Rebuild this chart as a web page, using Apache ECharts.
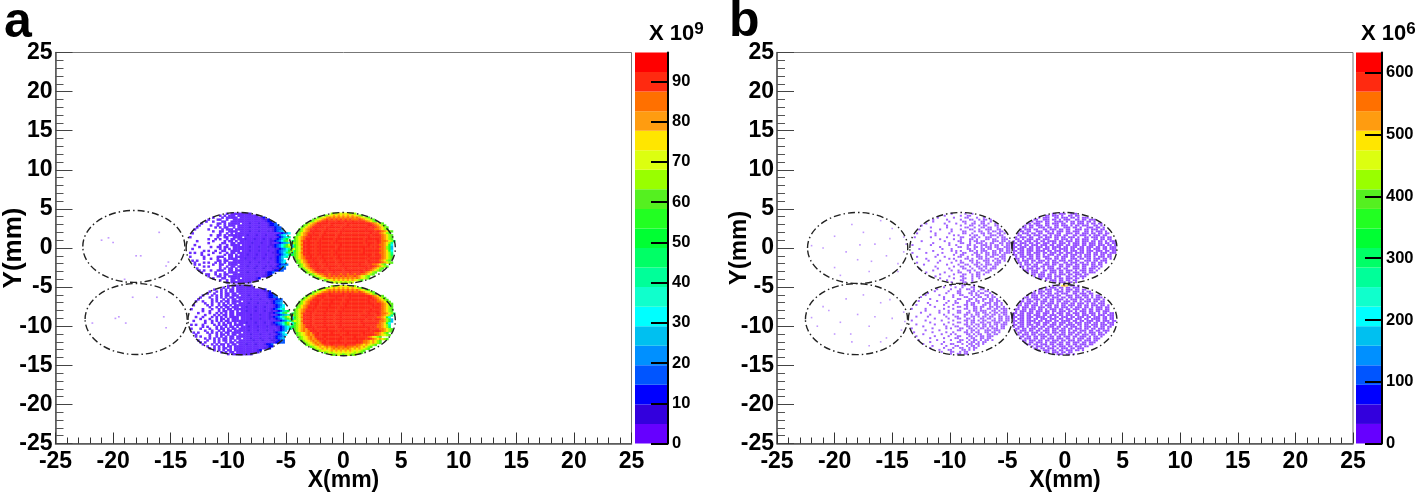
<!DOCTYPE html>
<html>
<head>
<meta charset="utf-8">
<script src="https://cdn.jsdelivr.net/npm/echarts@6/dist/echarts.min.js"></script>
<style>html,body{margin:0;background:#fff}#main{width:1416px;height:496px}</style>
</head>
<body>
<div id="main"></div>
<script>
var bandColors = ['#6600ff','#3300dd','#0000ff','#0055ff','#0090ff','#00c0f0','#00ffff','#10ffcc','#00ff99','#00ff66',
  '#00ff33','#22ff22','#55f020','#99ff00','#dcff10','#ffe600','#ff9c10','#ff7000','#ff2a10','#ff0000'];
// the map reads a little paler than the bar in its lowest bands and its core
var aMapColors = ['#6a2cff','#5020f0'].concat(bandColors.slice(2, 18), ['#ff3a20','#ff2418']);
var aBarTicks = [0,10,20,30,40,50,60,70,80,90];
var bBarTicks = [0,100,200,300,400,500,600];
var aBarMax = 97.2;
var bBarMax = 633;
// x, y, half widths of the dash-dot outlines, mm
var aOutlines = [[-18.2,0.2,4.43,4.6],[-9.1,0,4.56,4.54],[0,0,4.5,4.54],[-18,-9.08,4.43,4.54],[-9,-9.2,4.5,4.45],[0,-9.27,4.5,4.5]];
var bOutlines = [[-18,0,4.35,4.54],[-9.04,0,4.43,4.54],[-0.04,0,4.55,4.54],[-18.1,-9.1,4.43,4.54],[-9.1,-9.15,4.5,4.54],[-0.04,-9.2,4.55,4.5]];

// lone hits in the far left spots, x and y in mm
var aLeftPoints = [[-20,0.7],[-20.4,1.3],[-17.6,-1],[-16,2],[-15.2,-1.8],[-15.4,-2.3],[-19,-4],[-21,1],[-18,-1],
  [-19.8,-9],[-18.9,-9.6],[-16.2,-6.3],[-15.6,-8.8],[-21.8,-9.6],[-15.4,-10.2],[-18.3,-6.3],[-19.5,-8.8]];
var bLeftPoints = [[-20,1.5],[-19,-0.5],[-17.5,2],[-16.5,0.5],[-15.5,-1],[-14.5,-2],[-21,0],[-20,-2.5],[-18,-1.5],[-17,-3],
  [-15,2.5],[-16,3.5],[-18.5,3],[-14,-0.5],[-13.8,0.5],[-14.5,-3],[-22,0.3],[-17.8,0.4],[-15.2,1.2],[-19.5,-3.5],[-16.8,-1.7],[-14,1.4],
  [-20.5,-8],[-19,-6.5],[-18,-8.5],[-17,-10],[-16,-7],[-15,-9],[-14,-8.2],[-21.5,-10],[-20,-11],[-18.5,-12],[-17,-12.5],[-15.5,-11.5],
  [-14.2,-10.5],[-13.9,-9.4],[-19.5,-9.5],[-16.5,-8.8],[-21,-7.5],[-17.5,-6],[-15.2,-6.6],[-18.6,-11],[-16,-12],[-22,-8.9]];

// band index per cell, base 36, '.' = empty. 0.2 mm wide, 0.25 mm tall, top row first
var aRightTop = [
'.................dedfefefded',
'..............cdefgfgfgfgfgfedc',
'...........cdefghghghghghghghgfedc',
'.........cdefghihihihihihihhhihgfedc',
'........cdfghiijiiiijiijiijiiiiihgfdc',
'......cdfghjjjjjijjjjjjijjjjjjjjjjihgfdc',
'.....cdfghiijiiiijiiiiiijiiiiiiiijjihgfdc',
'....cdfghjjjjjijjjjjjijjjjjjjjjjjjijihgfdc',
'...cdfghiijiiiijiiiiiijiiiiiiiiijiiihhgfdc',
'...cdfghjjjjjijjjjjjijjjjjjjjjjjjjjjijihgfdc',
'..cdfghiijiiiijiiiiiijiiiiiiiiiiiijiiihgfdc',
'..cdfghjjjjjijjjjjjijjjjjjjjjjjjjjijjjihgfdc',
'.cdfghiijiiiijiiiiiijiiiiiiiiiiiijiiiiihgfdc',
'.cdfghjjjjjijjjjjjijjjjjjjjjjjjijjjjjjihgfdc',
'9cdfhiijiiiijiiiiiijiiiiiiiiiiiijiiiijihhgfd9',
'8cdfgjjjjjijjjjjjijjjjjjjjjjjjjijjjjijihgfd8',
'6bdfhiijiiiijiiiiiiiijiiiiiiiiiiijiiiihhgfb6',
'5bdegjjjjjijjjjjjjjijjjjjjjjjjjjjjijijihgdb5',
'5bdehiijiiiijiiiiiiijiiiiiiiiiijiiiiiihhgdb5',
'6bdegjjjjjijjjjjjijjjjjjjjjjjjijjjjjjjihgfb6',
'8cdfhiijiiiijiiiiiijiiiiiiiiiiijiiiiiihhgfd8',
'9cdfgjjjjjijjjjjjijjjjjjjjjjjjjjjjjijjihgfd9',
'.cdfghiijiiiijiiiiiijiiiiiiiiiiiijiiiiihgfdc',
'.cdfghjjjjjijjjjjjijjjjjjjjjjjjjjijjjjihgfdc',
'..cdfghiijiiiijiiiiiijiiiiiiiiiiijiiiihgfdc',
'..cdfghjjjjjijjjjjjijjjjjjjjjjjjijjjjjihgfdc',
'...cdfghiijiiiijiiiiiijiiiiiijiiiiihhgfdc',
'...cdfghjjjjjijjjjjjijjjjjjjjjjjjijjihgfdc',
'....cdfghiijiiiijiiiiiijiiiiiiiijiihgfdc',
'.....cdfghjjjjjijjjjjjijjjjjjjjijihgfdc',
'......cdfghiijiiiijiiiiiijiiiijihgfdc',
'........cdfghhiihiiiihiihiihiihhgfdc',
'.........cdefghihihihihihhhihgfedc',
'...........cdefghghghghghghghgfedc',
'..............cdefgfgfgfgfgfedc',
'.................dedededede'
];
var aRightLow = [
'.................dedfefefded',
'..............cdefgfgfgfgfgfedc',
'...........cdefghghghghghghghgfedc',
'.........cdefghhihihihihihihhihgfedc',
'........cdfghiiijiiiiijiijiiiiiihgfdc',
'......cdfghjjjjijjjjjjjijjjjjjjjjjihgfdc',
'.....cdfghiiijiiiiijiiiiijiiiiiiijjihgfdc',
'....cdfghjjjjijjjjjjjjijjjjjjjjjjjijihgfdc',
'...cdfghiiijiiiiijiiiiiijiiiiiiiijiiihhgfdc',
'...cdfghjjjjijjjjjjjjijjjjjjjjjjjjjjijihgfdc',
'..cdfghiiijiiiiijiiiiiijiiiiiiiiiiijiiihgfdc',
'..cdfghjjjjijjjjjjjjijjjjjjjjjjjjjijjjihgfdc',
'.cdfghiiijiiiiijiiiiiijiiiiiiiiiiijiiiihgfdc',
'.cdfghjjjjijjjjjjjjijjjjjjjjjjjijjjjjjihgfdc',
'9cdfhiiijiiiiijiiiiiijiiiiiiiiiiijiiijihhgfd9',
'8cdfgjjjjijjjjjjjjijjjjjjjjjjijjjjjjijihgfd8',
'6bdfhiiijiiiiijiiiiiijiiiiiiiiiijiiiihhgfb6',
'5bdegjjjjijjjjjjjjijjjjjjjjjjjjjijjijjihgdb5',
'5bdehiiijiiiiijiiiiiijiiiiiiiijiiiiiiihhgdb5',
'6bdegjjjjijjjjjjjjijjjjjjjjjjijjjjjjjihgfb6',
'8cdfghiijiiiiijiiiiiijiiiiiiiiijiiiiihhgfd8',
'9cdfghjjjjijjjjjjjjijjjjjjjjjjjjjjijihhgfd9',
'.cdfghgiijiiiiijiiiiiijiiiiiiiiiijiiiihhgfdc',
'.cdfghghjjjijjjjjjjjijjjjjjjjjjjjjijjjihgfdc',
'..cdefghgiijiiiiijiiiiiijiiiiiijiiiihhgfdc',
'..cdefghghjjijjjjjjjjijjjjjjjjijjjjjihgfedc',
'...cdefghgiiiijiiiiiijiiiiijiiiiihgfedc',
'...cdefghghjjjijjjjjjjjijjjjjjjjijihgfgfdc',
'....cdefghghiijiiiiijiiiiiiijiihhgfgfdc',
'.....cdefghghjjijjjjjjjijjjjjjihhgfgfdc',
'......cdefghghiiijiiiiijiiiihhgfgfedc',
'........cdefgfghghhihhhihhhghgfgfdc',
'.........cdefgfgfghghghghgfgfgfedc',
'...........cdefefgfgfgfgfgfefedc',
'..............cdedefefefefededc',
'.................dcdedcdedcd'
];
var aMidTop = [
'.................0.000000001',
'..............0.0.000.000000001',
'...........0...0.00000.00000000012',
'.........0...00..0..0000000000000112',
'........0..0...00..000000000000000122',
'......0......00.0.00000.000100010001223',
'.....0....0..0..0.000.000000000000012233',
'....0.......0.0.00..0.0000010001000111233',
'...0.....0.....0.000.000000000000000012334',
'...........0..00..0000.0000100010001012345',
'..0...........0..0.0.000000000000000000012346',
'..........0..00.0.0000000010001000100012356',
'.0...........0..00..0000.00000000000000123568',
'.........0..0.0..0.00.000100010001001012358a',
'....0......0....0.00.0.00000000000001123469c',
'.........0.....00..00.00000010001000100123457ad',
'...0..........0..0.0000.0000000000001123468ce',
'.....0....0..00.00..00000001000100010123469cd',
'..0...........0.0.0.0000000000000000001123468ce',
'.......0.0..0..00..0000.00010001000100123457ad',
'.0.0..0....0..0..0.00.0000000000000001123469c',
'......0..0......0.00.0.0001000100010001123568a',
'.0.....0.....000..00.00000000000000000123568',
'.......0..0..0..0.0000.0010001000100101235',
'..0.0........00.00..00000000000000000012346',
'...0...0.0..0.0.0.0000000001000100010012356',
'...0.0.....0..00..0000.000000000000000012334',
'.......0.0....0..0.00.000010001000101012345',
'....0.........0.0.00.0.00000010001000111233',
'.....0.0..0..000..00.000000000000000012233',
'......0.....0...0.0000.000100010001223',
'........00..0.0.00..00000000000000122',
'.........0...00.0.000000000000000112',
'...........0...00..0000.00000012',
'..............0..0.00.000000001',
'.................0.000000001'
];
var aMidLow = [
'.................0.000000001',
'...............0.0.0.00000001',
'...........0..0.0.00.0000000000012',
'.........0..0.0.0.00.000000000000112',
'........0..0..0.00.00.000000000000122',
'......0...0.0.0.00.000.000100010001223',
'.....0...0..0.0.0.00.000000000000012233',
'....0.....0.0..0.0.00.0000010001000111233',
'...0..0...0.0.0.00.0000.00000000000012334',
'.......0..0..0.0.0.00.0000100010001012345',
'..0.....0.0..0.00.0.0000000000000000012346',
'.........0..0.0.00.000.0010001000100012356',
'.0....0...0..0.0.00.0000000000000000123568',
'......0..0...0.00.00.0.00100010001001012358a',
'....0....0..0.0.0.00.000000000000001123469c',
'.......0...0.0.00.00.00000010001000100123457ad',
'...0..0...0.0.0.0.0000.0000000000001123468ce',
'.....0...0..0.00.0.000.00001000100010123469cd',
'..0....0..0.0.0.00.00000000000000000001123468ce',
'.......0..0..0.0.00.0.00010001000100123457ad',
'.0.0..0....0.0.00.0.0000.000000000001123469c',
'......0.0...0.0.0.00.0.0001000100010001123568a',
'.0...0...0..0.00.0.00.00000000000000000123568',
'.......0..0..0.0.00.00000010001000100101235',
'..0.0...0.0.0.0.00.0000.000000000000012346',
'...0.....0..0.00.0.00.000001000100010012356',
'...0.0...0..0.0.0.00.000000000000000012334',
'.......0.0.0.0.00.00.00.000100010001012345',
'....0...0..0.0.00.0.0.00000010001000111233',
'.....0.0...0.0..0.00.000000000000000012233',
'......0...0.0.00.0.00.00010001000122 3'.replace(' ',''),
'........0..0.0.0.00.00000000000000122',
'.........0.0.0.00.0.0000000000000112',
'...........0.0.0.00.000000000012',
'..............0.0.00.0000000001',
'.................0.000000001'
];
var bMidTop = [
'..................0.....0..0',
'...............0......0..00..',
'............0......0....00...0..0.',
'..........0.....0.....0...00..0.00.0',
'..........0......0.....00...0..00..0',
'.......0.......0....0...0..00..00.0..0.',
'.....0..........0.....0...00..0.00...00',
'.........0......0.......00..0..00.00..0.',
'....0........0....0...0...00..0..000..00',
'.........0........0....00...0.00..0.00.00',
'...0.......0.....0.....00..0...00.00..00.0',
'...........0.......0.0....0.00..0..000.00.',
'..0......0......0.....00...00.0..000..0.00',
'.............0.....0..0...00.0...00.00..000',
'.....0.........0.....00...0.00.00...000.00.0',
'..........0......0....00..0..000.0.00..00.00',
'.0.......0.......0..0....00.0..000.0.00.0.00',
'.............0.......00..0..00.0.000.00..000',
'....0.........0...0......00.0..00.00..000.00',
'..........0.......0.0.0...00.0.000..00.00.00',
'.0.....0......0.....0..00...00.0.00.00.0.000',
'............0......0..00...0.00..00.000.00.',
'...0.......0...0.....00..0...000.0.00..000',
'.......0.........0.0....00.0..00.00..00.00',
'........0....0......0.0...00.0..000.0.00.0',
'...0........0.....0...00...0.00..00..000',
'......0.........0....0..00..00.0.000.00',
'...........0.......0..00..0..00.00..00',
'....0.......0....0.....00..0..00.0.000',
'..........0.......0..0...00.0..00.00',
'.......0.......0.....00...0..00..00',
'.............0.....0...00..0.00.0',
'...........0.....0....00...0.00.',
'.............0.....0...00..0..0',
'................0.....00...0',
'..................0....00..0'
];
var bMidLow = [
'..................0....00...0',
'...............0....0..0...00..',
'............0.....0...0..00.0..00',
'...........0.....0...00....00.0..00',
'........0.......0....00...00.0.00..0',
'.......0.....0.....0..00...0.00..00.0.',
'.....0.........0...0....00..0.00..0.00',
'.........0.....0.....00...00.0..00.00.0',
'....0.......0....0..0....00..00.0..00.00',
'........0.......0...00...0.00.0..000.00.0',
'...0.....0.....0...0....00.00...00.0.00.0',
'...........0.....0...00..0..00.00..00.00.0',
'.0.....0.......0...0....00..00.0..00.00.000',
'.......0.....0...0...00...0.00.000..00.0.00',
'.....0.......0...0...00..00..00.00.0.00.000',
'.........0.....0...0....00.0.00..00.00.0.00.',
'...0....0.......0...00..0..00.0.00.00..00.00',
'...........0.....0...00..00.0..00.00.0.00.00',
'.0.....0......0....0....00.00.0.00..00.00.00',
'.........0.......0...00..0.00..00.00.000.00',
'...0.......0...0...0....00.0.00.00.0.00.000',
'......0.........0...00...00.0.0.00.00.0.00',
'.0........0.....0.0...00..00.0.00.0.000.00',
'.......0.....0.......00..0.00.0..000.000',
'..0.......0.....0..0....00.0.00..00.00.0',
'......0.......0...0.0....00.0.00..00.00',
'...0.......0.....0...00...00.0.00.000',
'.........0.....0....00...0.00..00.00',
'....0.......0.....0...00..0.00.0.00.0',
'.........0.....0.....00..0.00.0.00',
'......0.......0...00...0..00.00.0',
'..........0.....0...00...0.00.0',
'.........0.....0...0..00..0.00',
'.............0...00....00.0.0',
'..............0...00..0.00',
'..................0..00.00'
];
var bRightTop = [
'.................00.000..000.',
'..............00.000.0..00.00',
'...........0.000..00.000.00.0.000',
'.........00..000.00.0.000..00.00.000',
'........0.000.00..0000.0.00.000.00.0',
'......00.000..00.000.00..00.000.0.00.00',
'.....0.00.000.00..00.000.0.00.000..00.0',
'....00.00..000.00.00..000.00.0..000.00.0',
'...0.000.00..00.000.00.00..000.00.000.00',
'...00.00..000.00.0.000.00.000..00.0.000.0',
'..0.000.00.00..000.00..000.00.000.00.00.00',
'..00..00.000.00.0.000.00..00.000.0.000.00',
'.0.000.00..00.000.00.00.000.0..00.000.00.00',
'.00.0.000.00.000..00.000.0.00.000..00.00.00',
'0.00.000.00.00.0000.00.000.00.000.00.00.0.000',
'00.000.00.00.000.00.000.0.000.00.000.00.00.00',
'0.00.00.000.000.00.000.00.000.00.000.000.00.0',
'00.000.00.000.00.0000.00.000.00.000.00.00.000',
'0.000.000.00.000.00.0000.00.000.00.000.00.000',
'00.00.000.0000.00.000.00.000.00.000.000.00.00',
'0.000.00.000.00.000.00.000.0000.00.00.000.000',
'00.00.000.00.0.000.00.00.000.0.000.00.00.00',
'.0.000.00.00.000..00.000.00.00.000.0.000.00',
'.00.0.000.00..000.00.00..000.00.00.000.00.0',
'..0.000.00.000.0.00.000.00.00..000.00.000',
'..00.00.0.000.00.000..00.000.00.0.00.00.0',
'...0.000.00..000.00.00.000.00.000.00.00',
'...00.0.000.00.000..00.00.000.00..000.0',
'....0.000.00.0.000.00.00..000.00.000.0',
'.....00.000..00.000.00.000.0.000.00.0',
'......0.000.00..000.00.00.000.00.000',
'........00.000.00.0.000.00.000.00.',
'.........0.000.00.000..00.00.000',
'...........00.000.0.00.000.00.0',
'..............0.000.00.00.00',
'.................00.000.00.0'
];
var bRightLow = [
'.................0.0.fhf.00.0',
'..............0.000.00.00.000',
'...........00.000.00.0.000.00.00',
'.........0.000.00..000.00.000.0.00',
'........00.00.000.00.000..00.000.00',
'......0.000.00.000.00..000.00.000.0.00',
'.....00.000.0.00.000.00.00.000.00.0.000',
'....0.00.000.00.00.000.0.000.00.00.000.0',
'...00.000.0.000.00.00.000.00.0.000.00.00',
'...0.000.00.00.000.0.000.00.000.0.00.000.',
'..00.00.000.0.000.00.00.000.00.00.000.00.0',
'..0.000.00.000.00.00.000.0.000.00.0.000.00',
'.00.00.000.00.0.000.00.00.000.00.00.000.00',
'.0.000.00.000.00.00.000.00.0.000.00.00.000',
'00.00.000.00.000.0.000.00.000.00.000.0.00.00',
'0.000.00.000.00.000.00.000.00.000.00.000.000',
'00.00.000.0000.00.00.000.00.000.00.000.00.00',
'0.000.00.00.000.000.00.000.000.00.0000.00.00',
'00.00.0000.00.000.00.0000.00.00.000.00.000.00',
'0.000.00.000.000.00.000.00.000.000.00.00.000',
'00.00.000.00.00.000.00.0000.00.00.000.000.00',
'0.000.0.000.00.000.00.00.000.0.000.00.00.00',
'.00.00.000.00.00.000.00.00.000.00.00.000.0',
'.0.000.00.00.000.00.000.0.00.000.00.00.000',
'..00.00.000.0.00.000.00.000.00.0.000.00.0',
'..0.000.00.000.00.0.000.00.00.000.00.000',
'...00.00.00.000.00.00.000.00.000.0.00.0',
'...0.000.00.00.000.000.00.0.000.00.000',
'....00.000.00.00.000.00.000.00.000.00',
'.....0.00.000.0.000.00.00.000.00.000',
'......00.00.000.00.000.00.00.000.00',
'........0.000.00.00.000.00.000.00',
'.........00.00.000.0.000.00.000.',
'...........0.000.00.00.000.00.0',
'..............00.000.00.00.',
'.................0.000.00.0'
];

var font = '"Liberation Sans"';
var cellW = 0.2, cellH = 0.25, halfW = 4.5, halfH = 4.5;

function cells(rows, cx, cy, step) {
  var out = [];
  rows.forEach(function (row, r) {
    for (var i = 0; i < row.length; i++) {
      if (row[i] === '.') continue;
      var band = parseInt(row[i], 36);
      out.push([cx - halfW + (i + 0.5) * cellW, cy + halfH - (r + 0.5) * cellH, (band + 0.5) * step]);
    }
  });
  return out;
}
function xAxisOf(idx) {
  return {gridIndex: idx, type:'value', min:-25, max:25, interval:5,
    axisLine:{show:true, onZero:false, lineStyle:{color:'#555', width:1.5}},
    axisTick:{show:true, inside:true, length:11, lineStyle:{color:'#333'}},
    minorTick:{show:true, splitNumber:5, length:6, lineStyle:{color:'#333'}},
    splitLine:{show:false}, minorSplitLine:{show:false},
    axisLabel:{color:'#000', fontFamily:font, fontWeight:'bold', fontSize:23, margin:7, showMinLabel:true, showMaxLabel:true,
      hideOverlap:false},
    name:'X(mm)', nameLocation:'middle', nameGap:26, nameMoveOverlap:false,
    nameTextStyle:{color:'#000', fontFamily:font, fontWeight:'bold', fontSize:23}};
}
function yAxisOf(idx, nameSize, gap) {
  return {gridIndex: idx, type:'value', min:-25, max:25, interval:5,
    axisLine:{show:true, onZero:false, lineStyle:{color:'#555', width:1.5}},
    axisTick:{show:true, inside:true, length:17, lineStyle:{color:'#444'}},
    minorTick:{show:true, splitNumber:5, length:8, lineStyle:{color:'#555'}},
    splitLine:{show:false}, minorSplitLine:{show:false},
    axisLabel:{color:'#000', fontFamily:font, fontWeight:'bold', fontSize:23, margin:3, showMinLabel:true, showMaxLabel:true,
      hideOverlap:false},
    name:'Y(mm)', nameLocation:'middle', nameGap:gap, nameMoveOverlap:false,
    nameTextStyle:{color:'#000', fontFamily:font, fontWeight:'bold', fontSize:nameSize}};
}
function barAxis(idx, max, ticks) {
  return {gridIndex: idx, type:'value', position:'right', min:0, max:max, z:10,
    axisLine:{show:true, onZero:false, lineStyle:{color:'#000', width:2}},
    axisTick:{show:true, inside:true, length:17, customValues:ticks, lineStyle:{color:'#000', width:2}},
    splitLine:{show:false},
    axisLabel:{customValues:ticks, color:'#000', fontFamily:font, fontWeight:'bold', fontSize:16.5, margin:4}};
}
function outlineSeries(xi, data) {
  return {type:'custom', xAxisIndex:xi, yAxisIndex:xi, silent:true, z:5, data:data, clip:false,
    renderItem:function (params, api) {
      var c = api.coord([api.value(0), api.value(1)]);
      var s = api.size([api.value(2), api.value(3)]);
      return {type:'ellipse', shape:{cx:c[0], cy:c[1], rx:s[0], ry:s[1]},
        style:{fill:null, stroke:'#222', lineWidth:1.4, lineDash:[7,3,1.5,3]}};
    }};
}
function cellSeries(xi, data, colors, step, size, opacity) {
  return {type:'scatter', xAxisIndex:xi, yAxisIndex:xi, silent:true, z:3, symbol:'rect', symbolSize:size,
    progressive:0, data:data,
    itemStyle:{opacity:opacity, color:function (p) {
      return colors[Math.floor(p.value[2] / step)];
    }}};
}
function barSeries(xi, max) {
  return bandColors.map(function (col) {
    return {type:'bar', xAxisIndex:xi, yAxisIndex:xi, stack:'bar'+xi, barWidth:'100%', silent:true,
      itemStyle:{color:col}, data:[max/20]};
  });
}
var aStep = aBarMax / 20, bStep = bBarMax / 20;
var aCells = cells(aRightTop, 0, 0, aStep).concat(cells(aRightLow, 0, -9.27, aStep),
  cells(aMidTop, -9.1, 0, aStep), cells(aMidLow, -9, -9.2, aStep));
var bRightCells = cells(bRightTop, -0.04, 0, bStep).concat(cells(bRightLow, -0.04, -9.2, bStep));
var bMidCells = cells(bMidTop, -9.04, 0, bStep).concat(cells(bMidLow, -9.1, -9.15, bStep));
var supStyle = {fontFamily:font, fontWeight:'bold', fontSize:17, verticalAlign:'top', padding:[0,0,9,0]};
var option = {
  animation:false,
  backgroundColor:'#fff',
  title:[
    {text:'a', left:-1, top:-7, textStyle:{fontFamily:font, fontWeight:'bold', fontSize:50, color:'#000'}},
    {text:'b', left:724, top:-8, textStyle:{fontFamily:font, fontWeight:'bold', fontSize:50, color:'#000'}},
    {text:'X 10{s|9}', left:644, top:16, textStyle:{fontFamily:font, fontWeight:'bold', fontSize:22, color:'#000', rich:{s:supStyle}}},
    {text:'X 10{s|6}', left:1356, top:16, textStyle:{fontFamily:font, fontWeight:'bold', fontSize:22, color:'#000', rich:{s:supStyle}}}
  ],
  grid:[
    {left:55.5, top:52.5, width:576, height:391, show:true, borderColor:'#777', borderWidth:1, backgroundColor:'#fff', outerBoundsMode:'none'},
    {left:777, top:52.5, width:576, height:391, show:true, borderColor:'#777', borderWidth:1, backgroundColor:'#fff', outerBoundsMode:'none'},
    {left:635, top:52.5, width:33, height:391, outerBoundsMode:'none'},
    {left:1356, top:52.5, width:26, height:391, outerBoundsMode:'none'}
  ],
  xAxis:[xAxisOf(0), xAxisOf(1),
    {gridIndex:2, type:'category', data:['z'], show:false},
    {gridIndex:3, type:'category', data:['z'], show:false}],
  yAxis:[yAxisOf(0,26,29), yAxisOf(1,24,26), barAxis(2,aBarMax,aBarTicks), barAxis(3,bBarMax,bBarTicks)],
  series:[cellSeries(0,aCells,aMapColors,aStep,[2.7,2.4],1),
    cellSeries(1,bRightCells,bandColors,bStep,[2.2,1.9],0.7),
    cellSeries(1,bMidCells,bandColors,bStep,[2.1,1.9],0.62),
    cellSeries(0,aLeftPoints.map(function (p) { return [p[0],p[1],aStep/2]; }),bandColors,aStep,[1.8,1.6],0.4),
    cellSeries(1,bLeftPoints.map(function (p) { return [p[0],p[1],bStep/2]; }),bandColors,bStep,[1.6,1.6],0.4),
    outlineSeries(0,aOutlines), outlineSeries(1,bOutlines)]
    .concat(barSeries(2,aBarMax)).concat(barSeries(3,bBarMax))
};
echarts.init(document.getElementById('main')).setOption(option);
</script>
</body>
</html>
